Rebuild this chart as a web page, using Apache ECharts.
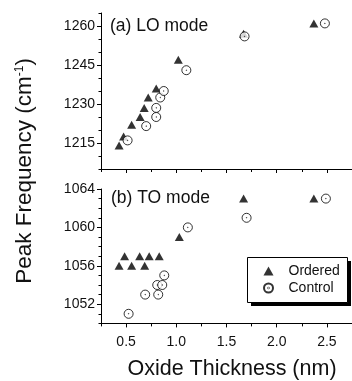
<!DOCTYPE html>
<html>
<head>
<meta charset="utf-8">
<script src="https://cdn.jsdelivr.net/npm/echarts@6/dist/echarts.min.js"></script>
<style>html,body{margin:0;padding:0;background:#fff;}#c{width:352px;height:381px;}</style>
</head>
<body>
<div id="c"></div>
<script>
// Data (x: oxide thickness nm, y: peak frequency cm^-1)
var loOrderedX = [0.43, 0.475, 0.555, 0.64, 0.68, 0.72, 0.80, 1.02, 1.67, 2.37];
var loOrderedY = [1214, 1217.5, 1222, 1225, 1228.5, 1232.5, 1236, 1247, 1257, 1261];
var loControlX = [0.515, 0.70, 0.80, 0.80, 0.84, 0.875, 1.10, 1.68, 2.48];
var loControlY = [1216, 1221.5, 1225, 1228.5, 1232.5, 1235, 1243, 1256, 1261];
var toOrderedX = [0.43, 0.485, 0.555, 0.635, 0.685, 0.73, 0.83, 1.03, 1.67, 2.37];
var toOrderedY = [1056, 1057, 1056, 1057, 1056, 1057, 1057, 1059, 1063, 1063];
var toControlX = [0.525, 0.69, 0.81, 0.82, 0.86, 0.88, 1.115, 1.70, 2.49];
var toControlY = [1051, 1053, 1054, 1053, 1054, 1055, 1060, 1061, 1063];
var xTicks = [0.5, 1.0, 1.5, 2.0, 2.5];
var loTicks = [1215, 1230, 1245, 1260];
var toTicks = [1052, 1056, 1060, 1064];
var seriesNames = ['Ordered', 'Control'];
var panelLabels = ['(a) LO mode', '(b) TO mode'];
var xTitle = 'Oxide Thickness (nm)';

function pairs(xs, ys) { return xs.map(function (x, i) { return [x, ys[i]]; }); }

var FONT = 'Liberation Sans, Arial, Helvetica, sans-serif';
var ringPath = 'path://M0,-10A10,10 0 1,1 0,10A10,10 0 1,1 0,-10ZM0,-0.6A0.6,0.6 0 1,1 0,0.6A0.6,0.6 0 1,1 0,-0.6Z';

var chart = echarts.init(document.getElementById('c'), null, { renderer: 'canvas' });

function xMajor(gi, showLabel) {
  return {
    type: 'value', gridIndex: gi, min: 0.25, max: 2.75, position: 'bottom',
    splitLine: { show: false },
    axisLine: { show: true, lineStyle: { color: '#000', width: 1 } },
    axisTick: { show: true, inside: false, length: 4, customValues: xTicks, lineStyle: { color: '#000' } },
    axisLabel: { show: showLabel, customValues: xTicks, margin: 12, color: '#111', fontSize: 14, fontFamily: FONT,
      formatter: function (v) { return Number(v).toFixed(1); } }
  };
}
function xMinor(gi) {
  return {
    type: 'value', gridIndex: gi, min: 0.25, max: 2.75, interval: 0.25, position: 'bottom',
    splitLine: { show: false }, axisLine: { show: false },
    axisTick: { show: true, length: 3, lineStyle: { color: '#000' } },
    axisLabel: { show: false }
  };
}
function yMajor(gi, mn, mx, ticks) {
  return {
    type: 'value', gridIndex: gi, min: mn, max: mx, position: 'left',
    splitLine: { show: false },
    axisLine: { show: true, lineStyle: { color: '#000', width: 1 } },
    axisTick: { show: true, length: 4, customValues: ticks, lineStyle: { color: '#000' } },
    axisLabel: { show: true, customValues: ticks, margin: 6, color: '#111', fontSize: 14, fontFamily: FONT,
      formatter: function (v) { return String(Math.round(v)); } }
  };
}
function yMinor(gi, mn, mx, iv) {
  return {
    type: 'value', gridIndex: gi, min: mn, max: mx, interval: iv, position: 'left',
    splitLine: { show: false }, axisLine: { show: false },
    axisTick: { show: true, length: 2.5, lineStyle: { color: '#000' } },
    axisLabel: { show: false }
  };
}

var triStyle = { symbol: 'triangle', symbolSize: [9, 8], itemStyle: { color: '#000' } };
var circStyle = { symbol: ringPath, symbolSize: 9, itemStyle: { color: '#fff', borderColor: '#000', borderWidth: 1 } };

function sc(name, data, xi, yi, st) {
  return Object.assign({ type: 'scatter', name: name, data: data, xAxisIndex: xi, yAxisIndex: yi, animation: false }, JSON.parse(JSON.stringify(st)));
}

var option = {
  animation: false,
  backgroundColor: '#fff',
  grid: [
    { left: 101, right: -11.5, top: 13, height: 156 },
    { left: 101, right: -11.5, top: 189, height: 134.4 }
  ],
  xAxis: [xMajor(0, false), xMinor(0), xMajor(1, true), xMinor(1)],
  yAxis: [yMajor(0, 1205, 1265, loTicks), yMinor(0, 1205, 1265, 5), yMajor(1, 1050, 1064, toTicks), yMinor(1, 1050, 1064, 1)],
  legend: {
    data: seriesNames, orient: 'vertical', left: 263, top: 264, z: 10,
    padding: 0, itemGap: 3, itemWidth: 10, itemHeight: 9,
    textStyle: { color: '#111', fontSize: 14, fontFamily: FONT, padding: [0, 0, 0, 10] },
    selectedMode: false
  },
  graphic: [
    { type: 'rect', z: 5, shape: { x: 251, y: 261, width: 100, height: 45 }, style: { fill: '#000' } },
    { type: 'rect', z: 6, shape: { x: 247.5, y: 257.5, width: 100, height: 45 }, style: { fill: '#fff', stroke: '#000', lineWidth: 1 } },
    { type: 'text', left: 110, top: 17, style: { text: panelLabels[0], fontSize: 17.5, fontFamily: FONT, fill: '#111' } },
    { type: 'text', left: 111, top: 189, style: { text: panelLabels[1], fontSize: 17.5, fontFamily: FONT, fill: '#111' } },
    { type: 'text', x: 232, y: 369, style: { text: xTitle, fontSize: 21.5, fontFamily: FONT, fill: '#111', align: 'center', verticalAlign: 'middle' } },
    { type: 'text', x: 25, y: 171, rotation: Math.PI / 2,
      style: { text: '{a|Peak Frequency (cm}{s|-1}{a|)}', align: 'center', verticalAlign: 'middle', fill: '#111',
        rich: { a: { fontSize: 22.5, fontFamily: FONT, fill: '#111' }, s: { fontSize: 12, fontFamily: FONT, fill: '#111', verticalAlign: 'top' } } } }
  ],
  series: [
    sc(seriesNames[0], pairs(loOrderedX, loOrderedY), 0, 0, triStyle),
    sc(seriesNames[1], pairs(loControlX, loControlY), 0, 0, circStyle),
    sc(seriesNames[0], pairs(toOrderedX, toOrderedY), 2, 2, triStyle),
    sc(seriesNames[1], pairs(toControlX, toControlY), 2, 2, circStyle)
  ]
};
chart.setOption(option);
</script>
</body>
</html>
